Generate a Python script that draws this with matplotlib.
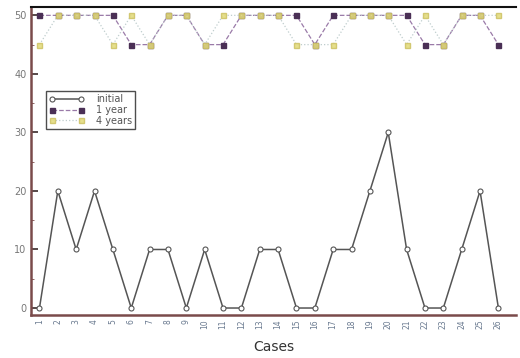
import matplotlib.pyplot as plt
import numpy as np
from matplotlib.ticker import MultipleLocator

cases = np.arange(1, 27)
initial = [0, 20, 10, 20, 10, 0, 10, 10, 0, 10, 0, 0, 10, 10, 0, 0, 10, 10, 20, 30, 10, 0, 0, 10, 20, 0]
one_year = [50, 50, 50, 50, 50, 45, 45, 50, 50, 45, 45, 50, 50, 50, 50, 45, 50, 50, 50, 50, 50, 45, 45, 50, 50, 45]
four_years = [45, 50, 50, 50, 45, 50, 45, 50, 50, 45, 50, 50, 50, 50, 45, 45, 45, 50, 50, 50, 45, 50, 45, 50, 50, 50]

SPINE = "#7a4a4a"

fig = plt.figure(figsize=(5.2, 3.58), dpi=100)
ax = fig.add_axes([0.06, 0.12, 0.932, 0.86])

ax.plot(cases, initial, color="#555555", lw=1.1, marker="o", ms=3.6,
        mfc="white", mec="#555555", mew=0.8, label="initial", zorder=3)
ax.plot(cases, one_year, color="#9a7aa8", lw=0.9, ls="--", marker="s", ms=3.6,
        mfc="#4a2f55", mec="#4a2f55", label="1 year", zorder=3)
ax.plot(cases, four_years, color="#b8c8c8", lw=0.9, ls=":", marker="s", ms=3.6,
        mfc="#e4dc80", mec="#cfc468", alpha=0.9, label="4 years", zorder=4)

ax.set_xlim(0.55, 26.95)
ax.set_ylim(-1.2, 51.4)
ax.set_xticks(cases)
ax.set_xticklabels([str(c) for c in cases], rotation=90, fontsize=5.5, color="#6a7a90")
ax.yaxis.set_major_locator(MultipleLocator(10))
ax.yaxis.set_minor_locator(MultipleLocator(5))
ax.tick_params(axis="y", direction="in", labelsize=7, labelcolor="#777777",
               length=5, width=1.2, color="#3a2a2a")
ax.tick_params(axis="y", which="minor", direction="in", length=2.5, color=SPINE)
ax.tick_params(axis="x", direction="in", length=0, pad=3)

ax.spines["left"].set_color(SPINE)
ax.spines["left"].set_linewidth(1.8)
ax.spines["bottom"].set_color(SPINE)
ax.spines["bottom"].set_linewidth(1.8)
ax.spines["top"].set_color("#111111")
ax.spines["top"].set_linewidth(1.5)
ax.spines["right"].set_visible(False)

ax.set_xlabel("Cases", fontsize=10, color="#333333", labelpad=8)

leg = ax.legend(loc="upper left", bbox_to_anchor=(0.02, 0.745), numpoints=2,
                fontsize=7, frameon=True, fancybox=False, edgecolor="#222222",
                handlelength=3.6, borderpad=0.35, labelspacing=0.1, handletextpad=1.2)
leg.get_frame().set_linewidth(1.0)
for t in leg.get_texts():
    t.set_color("#555555")

fig.savefig("out.png", dpi=100, facecolor="white")
